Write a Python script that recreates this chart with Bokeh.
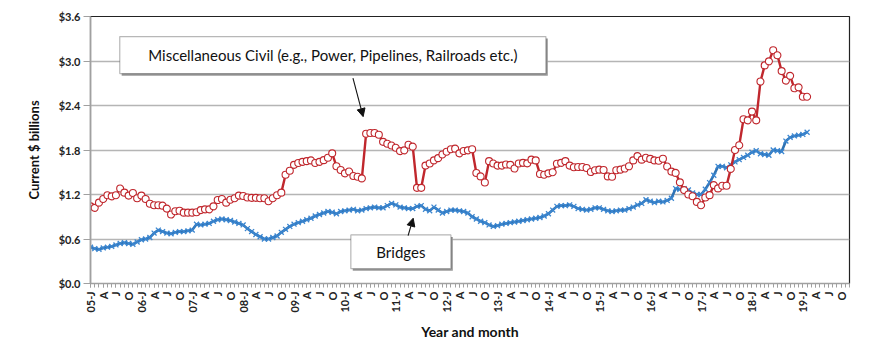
import math
from bokeh.plotting import figure
from bokeh.models import (Range1d, FixedTicker, BoxAnnotation, Label, Arrow,
                          NormalHead, ColumnDataSource)
from bokeh.embed import file_html
from bokeh.resources import INLINE

# ---------------- data ----------------
years = list(range(2005, 2020))
month_letters = ["J", "F", "M", "A", "M", "J", "J", "A", "S", "O", "N", "D"]

misc_civil = [
    1.04, 1.02, 1.09, 1.14, 1.19, 1.175, 1.19, 1.28, 1.225, 1.185, 1.22, 1.15,
    1.185, 1.14, 1.075, 1.055, 1.055, 1.05, 1.01, 0.93, 0.975, 0.98, 0.955, 0.955,
    0.955, 0.96, 0.99, 1.0, 1.0, 1.04, 1.125, 1.14, 1.09, 1.13, 1.15, 1.185,
    1.18, 1.16, 1.155, 1.155, 1.15, 1.15, 1.11, 1.15, 1.19, 1.225, 1.467, 1.52,
    1.60, 1.625, 1.64, 1.65, 1.66, 1.625, 1.64, 1.663, 1.695, 1.755, 1.58, 1.53,
    1.485, 1.51, 1.45, 1.44, 1.417, 2.02, 2.03, 2.03, 2.005, 1.91, 1.885, 1.86,
    1.83, 1.785, 1.795, 1.87, 1.845, 1.29, 1.29, 1.59, 1.618, 1.66, 1.69, 1.74,
    1.777, 1.81, 1.818, 1.755, 1.786, 1.795, 1.81, 1.49, 1.444, 1.362, 1.65, 1.618,
    1.59, 1.59, 1.604, 1.6, 1.55, 1.618, 1.627, 1.62, 1.67, 1.66, 1.477, 1.467,
    1.485, 1.5, 1.614, 1.627, 1.65, 1.59, 1.567, 1.57, 1.57, 1.558, 1.503, 1.526,
    1.535, 1.53, 1.444, 1.44, 1.526, 1.535, 1.55, 1.58, 1.66, 1.718, 1.67, 1.695,
    1.68, 1.66, 1.655, 1.682, 1.577, 1.509, 1.491, 1.364, 1.259, 1.2, 1.177, 1.1,
    1.055, 1.159, 1.191, 1.327, 1.282, 1.318, 1.318, 1.545, 1.8, 1.864, 2.214, 2.2,
    2.318, 2.2, 2.723, 2.941, 2.995, 3.145, 3.077, 2.864, 2.736, 2.8, 2.632, 2.645,
    2.518, 2.518,
]

bridges = [
    0.49, 0.47, 0.46, 0.48, 0.49, 0.50, 0.52, 0.54, 0.55, 0.54, 0.53, 0.56,
    0.59, 0.60, 0.62, 0.68, 0.72, 0.70, 0.68, 0.67, 0.69, 0.70, 0.70, 0.71,
    0.72, 0.80, 0.79, 0.80, 0.81, 0.84, 0.86, 0.87, 0.86, 0.85, 0.83, 0.81,
    0.79, 0.74, 0.70, 0.66, 0.63, 0.60, 0.60, 0.62, 0.64, 0.69, 0.73, 0.77,
    0.80, 0.82, 0.84, 0.86, 0.88, 0.91, 0.93, 0.95, 0.97, 0.96, 0.94, 0.97,
    0.98, 0.99, 1.00, 0.98, 0.99, 1.01, 1.02, 1.03, 1.02, 1.02, 1.05, 1.08,
    1.06, 1.03, 1.02, 1.01, 1.01, 1.04, 1.05, 1.00, 0.98, 1.03, 0.99, 0.95,
    0.97, 0.99, 0.99, 0.98, 0.97, 0.95, 0.90, 0.87, 0.84, 0.82, 0.79, 0.77,
    0.78, 0.80, 0.81, 0.82, 0.83, 0.84, 0.85, 0.86, 0.87, 0.88, 0.89, 0.91,
    0.94, 0.99, 1.04, 1.05, 1.05, 1.06, 1.04, 1.01, 1.00, 0.99, 1.00, 1.02,
    1.02, 1.00, 0.98, 0.97, 0.98, 0.99, 0.99, 1.01, 1.03, 1.06, 1.08, 1.13,
    1.11, 1.09, 1.11, 1.10, 1.12, 1.15, 1.28, 1.27, 1.28, 1.26, 1.22, 1.20,
    1.20, 1.27, 1.36, 1.46, 1.58, 1.58, 1.56, 1.60, 1.64, 1.67, 1.70, 1.73,
    1.77, 1.79, 1.75, 1.74, 1.73, 1.80, 1.79, 1.78, 1.92, 1.97, 1.99, 2.00,
    2.01, 2.04,
]

y_ticks = [0.0, 0.6, 1.2, 1.8, 2.4, 3.0, 3.6]
y_tick_labels = ["$0.0", "$0.6", "$1.2", "$1.8", "$2.4", "$3.0", "$3.6"]

# category labels, one per month; ticks shown every quarter
n_months = len(years) * 12
x_tick_pos = list(range(0, n_months, 3))
x_tick_labels = {}
for k in x_tick_pos:
    yr = years[k // 12]
    m = k % 12
    x_tick_labels[k] = f"{yr % 100:02d}-J" if m == 0 else month_letters[m]

FONT = "Lato"

# ---------------- figure ----------------
p = figure(width=870, height=352, output_backend="svg", toolbar_location=None,
           x_range=Range1d(0, n_months - 1), y_range=Range1d(0, 3.6),
           min_border_left=90, min_border_right=21, min_border_top=16,
           min_border_bottom=69)
p.background_fill_color = "white"
p.border_fill_color = "white"
p.outline_line_color = "#222222"
p.outline_line_width = 1.2

# gridlines
p.xgrid.grid_line_color = None
p.ygrid.grid_line_color = "#b5b5b5"
p.ygrid.grid_line_width = 1.6
p.ygrid.ticker = FixedTicker(ticks=y_ticks)

# y axis
p.yaxis.ticker = FixedTicker(ticks=y_ticks)
p.yaxis.major_label_overrides = {t: l for t, l in zip(y_ticks, y_tick_labels)}
p.yaxis.major_label_text_font = FONT
p.yaxis.major_label_text_font_style = "bold"
p.yaxis.major_label_text_font_size = "11px"
p.yaxis.major_label_text_color = "#222222"
p.yaxis.axis_line_color = "#a0a0a0"
p.yaxis.axis_line_width = 1.5
p.yaxis.major_tick_line_color = "#a0a0a0"
p.yaxis.major_tick_out = 7
p.yaxis.major_tick_in = 0
p.yaxis.minor_tick_line_color = None
p.yaxis.axis_label = "Current $ billions"
p.yaxis.axis_label_text_font = FONT
p.yaxis.axis_label_text_font_style = "bold"
p.yaxis.axis_label_text_font_size = "13px"
p.yaxis.axis_label_text_color = "#111111"
p.yaxis.axis_label_standoff = 14
p.yaxis.major_label_standoff = 3

# x axis
p.xaxis.ticker = FixedTicker(ticks=x_tick_pos, minor_ticks=list(range(n_months)))
p.xaxis.major_label_overrides = x_tick_labels
p.xaxis.major_label_orientation = math.pi / 2
p.xaxis.major_label_text_font = FONT
p.xaxis.major_label_text_font_style = "bold"
p.xaxis.major_label_text_font_size = "11px"
p.xaxis.major_label_text_color = "#222222"
p.xaxis.axis_line_color = "#a0a0a0"
p.xaxis.axis_line_width = 1.5
p.xaxis.major_tick_line_color = "#a0a0a0"
p.xaxis.minor_tick_line_color = "#a0a0a0"
p.xaxis.major_tick_out = 4
p.xaxis.major_tick_in = 0
p.xaxis.minor_tick_out = 4
p.xaxis.minor_tick_in = 0
p.xaxis.major_label_standoff = 4
p.xaxis.axis_label = "Year and month"
p.xaxis.axis_label_text_font = FONT
p.xaxis.axis_label_text_font_style = "bold"
p.xaxis.axis_label_text_font_size = "14px"
p.xaxis.axis_label_text_color = "#111111"
p.xaxis.axis_label_standoff = 7

# ---------------- series ----------------
src_b = ColumnDataSource(dict(x=list(range(len(bridges))), y=bridges))
src_m = ColumnDataSource(dict(x=list(range(len(misc_civil))), y=misc_civil))

BLUE = "#2e72b3"
RED = "#c0272d"

p.line("x", "y", source=src_b, line_color=BLUE, line_width=2.6)
p.scatter("x", "y", source=src_b, marker="x", size=7, line_color="#3b86d0",
          line_width=1.3)

p.line("x", "y", source=src_m, line_color=RED, line_width=2.4)
p.scatter("x", "y", source=src_m, marker="circle", size=7, fill_color="white",
          line_color=RED, line_width=1.1)

# ---------------- annotations ----------------
def boxed_label(left, right, bottom, top, text, size):
    shadow = BoxAnnotation(left=left + 0.45, right=right + 0.45,
                           bottom=bottom - 0.028, top=top - 0.028,
                           fill_color="#9a9a9a", fill_alpha=1.0,
                           line_color=None)
    box = BoxAnnotation(left=left, right=right, bottom=bottom, top=top,
                        fill_color="white", fill_alpha=1.0,
                        line_color="#111111", line_width=1.2)
    p.add_layout(shadow)
    p.add_layout(box)
    lab = Label(x=(left + right) / 2, y=(bottom + top) / 2, text=text,
                text_align="center", text_baseline="middle",
                text_font=FONT, text_font_size=size, text_color="#111111")
    p.add_layout(lab)

boxed_label(6.9, 107.4, 2.83, 3.33,
            "Miscellaneous Civil (e.g., Power, Pipelines, Railroads etc.)", "15px")
boxed_label(61.4, 85.0, 0.20, 0.655, "Bridges", "15px")

p.add_layout(Arrow(end=NormalHead(size=8, fill_color="#111111",
                                  line_color="#111111"),
                   x_start=61.9, y_start=2.77, x_end=64.3, y_end=2.25,
                   line_color="#111111", line_width=1.1))
p.add_layout(Arrow(end=NormalHead(size=8, fill_color="#111111",
                                  line_color="#111111"),
                   x_start=74.9, y_start=0.645, x_end=76.1, y_end=0.88,
                   line_color="#111111", line_width=1.1))

open("out.html", "w").write(file_html(p, INLINE))
